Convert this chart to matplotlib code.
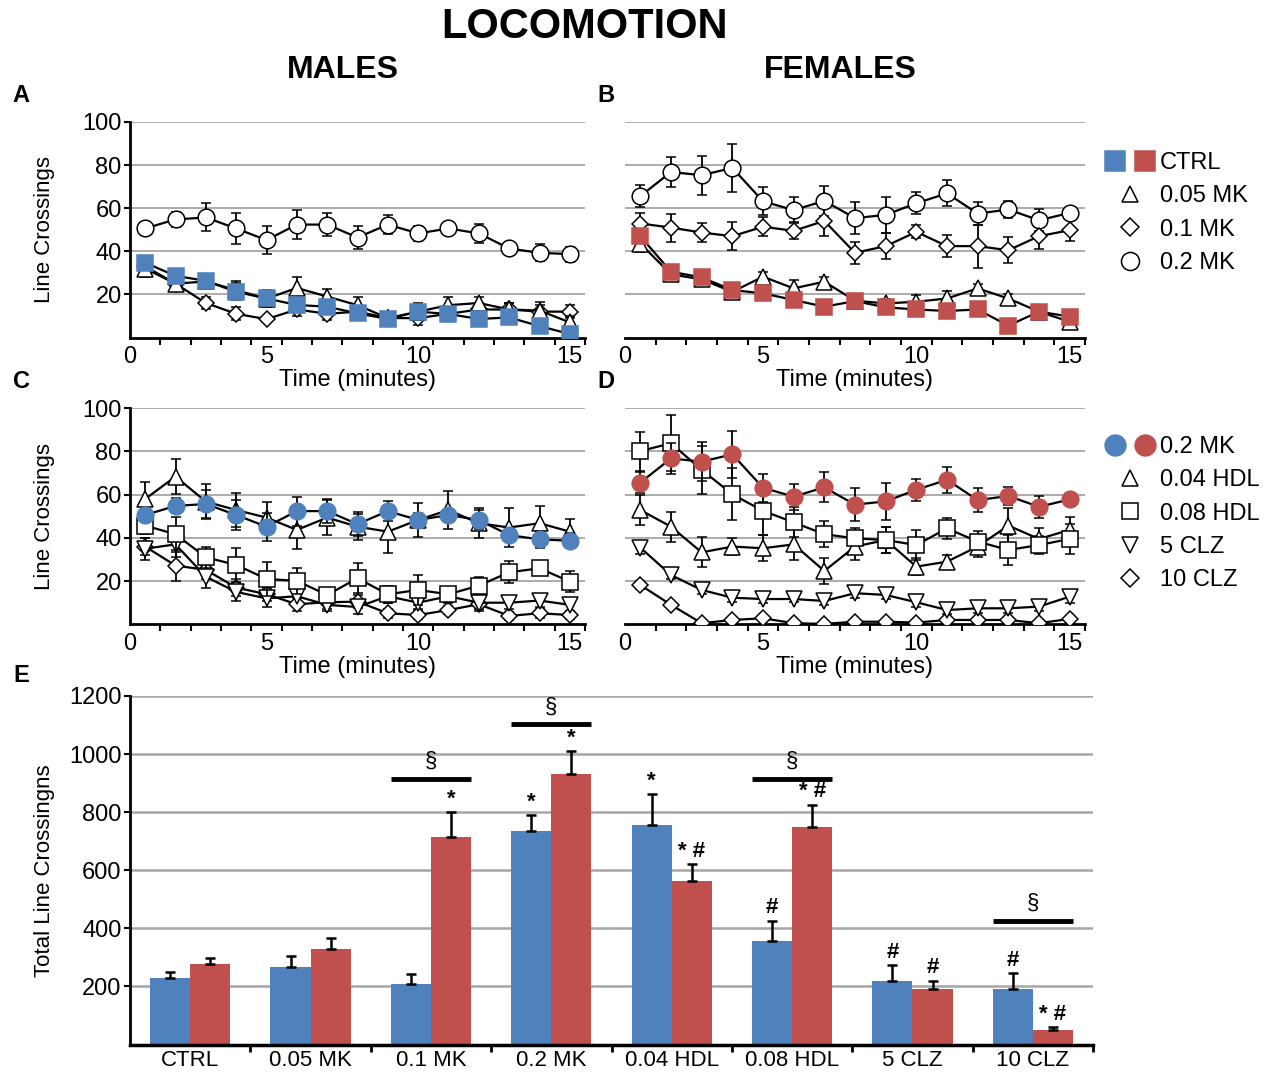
import numpy as np
import matplotlib
matplotlib.use("Agg")
import matplotlib.pyplot as plt
from matplotlib.lines import Line2D
from matplotlib.legend_handler import HandlerTuple

plt.rcParams["font.family"] = ["Liberation Sans", "DejaVu Sans"]

BLUE = "#4F81BD"
RED = "#C0504D"
GRID = "#a6a6a6"

minutes = np.arange(1, 16)

# --- A: males, MK-801 doses (mean, SEM per minute)
m_ctrl = [34.7, 28.6, 26.3, 21.2, 18.1, 15.1, 14.3, 11.2, 8.6, 12.0, 10.9, 8.6, 9.3, 5.3, 1.6]
m_ctrl_err = [3, 2.5, 3, 4, 3, 3, 3, 3, 2.5, 3, 3, 2.5, 2, 3, 1]
m_mk005 = [32, 25, 26, 22, 18, 23, 19, 15, 9, 12, 15, 16, 13, 12.5, 7]
m_mk005_err = [4, 3, 3, 4, 4, 5, 3.5, 4, 3, 4, 4, 3, 3, 4, 3]
m_mk01 = [33, 25, 16, 11, 8.5, 13, 11, 12, 9, 9, 11, 13, 13, 12, 12]
m_mk01_err = [3, 3, 3, 3, 1, 3, 3, 3, 3, 3, 3, 3, 3, 3, 3]
m_mk02 = [50.6, 54.8, 55.7, 50.6, 45.2, 52.4, 52.4, 46.4, 52.4, 48.3, 50.6, 48.3, 41.3, 39.3, 38.7]
m_mk02_err = [1, 3.5, 6.5, 7, 6.5, 6.7, 5.4, 5.4, 4.6, 3.4, 1, 4.4, 3, 4, 3.5]

# --- B: females, MK-801 doses
f_ctrl = [47.0, 30.5, 27.9, 22.0, 20.5, 17.4, 14.3, 16.9, 14.0, 13.0, 12.3, 13.0, 5.5, 12.0, 9.7]
f_ctrl_err = [2, 2, 2, 2.5, 1.5, 1.5, 1.5, 1.5, 2, 1.5, 1.5, 1.5, 1, 3, 2]
f_mk005 = [43.6, 29.3, 27.0, 21.2, 28.2, 22.8, 25.9, 17.1, 15.8, 16.6, 18.1, 22.8, 18.1, 12.0, 7.3]
f_mk005_err = [4, 2.5, 2.5, 3.5, 2, 4, 2, 1.5, 2, 3, 3.5, 2, 2, 3, 2]
f_mk01 = [52.9, 51.0, 48.7, 47.0, 51.4, 49.5, 54.1, 39.3, 42.4, 49.0, 42.4, 42.4, 40.5, 47.0, 49.8]
f_mk01_err = [5, 6.5, 4.5, 6.5, 4.5, 4, 7, 5, 6, 3, 5, 10, 6, 6, 5]
f_mk02 = [65.6, 76.8, 75.3, 78.7, 63.2, 59.1, 63.4, 55.4, 56.9, 62.3, 66.9, 57.5, 59.4, 54.4, 57.8]
f_mk02_err = [5, 7, 9, 11, 6.5, 6, 7, 7.5, 8.5, 5, 6, 5.5, 4, 5, 1]

# --- C: males, antipsychotics
m_hdl004 = [58.0, 68.4, 56.8, 52.9, 49.4, 43.7, 49.4, 45.2, 42.9, 48.3, 52.9, 46.8, 44.8, 46.8, 42.9]
m_hdl004_err = [8, 8, 8, 8, 7, 9, 8, 6, 10, 8, 9, 7, 9, 8, 6]
m_hdl008 = [45.7, 41.7, 31.0, 27.5, 21.0, 20.1, 13.6, 21.3, 13.9, 15.9, 13.9, 17.9, 24.1, 25.9, 19.8]
m_hdl008_err = [4, 8, 5, 8, 8, 6, 3, 7, 4, 7, 3, 4, 5, 3, 5]
m_clz5 = [35, 37, 22, 15, 12, 13, 9, 8, 13, 10, 13, 10, 10, 11, 9]
m_clz5_err = [5, 6, 5, 4, 4, 3, 3, 3, 3, 3, 3, 3, 3, 3, 3]
m_clz10 = [36.0, 27.2, 25.2, 17.0, 13.9, 9.3, 10.2, 10.5, 5.1, 4.3, 6.6, 9.3, 3.9, 5.1, 4.3]
m_clz10_err = [4, 7, 4, 4, 3, 3, 3, 3, 2, 2, 2, 3, 2, 2, 2]

# --- D: females, antipsychotics
f_hdl004 = [52.9, 45.2, 33.3, 36.0, 35.2, 37.0, 24.7, 36.0, 39.0, 26.7, 29.0, 36.0, 45.7, 39.5, 43.7]
f_hdl004_err = [7, 7, 7, 4, 6, 7, 6, 6, 6, 4, 3, 5, 8, 5, 6]
f_hdl008 = [80.2, 83.8, 71.5, 60.2, 52.5, 47.2, 41.7, 39.8, 39.0, 36.7, 44.4, 38.3, 34.4, 36.7, 39.5]
f_hdl008_err = [9, 13, 11, 12, 11, 7, 6, 5, 6, 7, 5, 5, 7, 4, 7]
f_clz5 = [35.5, 22.8, 15.9, 12.3, 11.7, 11.7, 10.8, 14.4, 13.6, 10.2, 6.6, 7.4, 7.4, 8.2, 12.8]
f_clz5_err = [3, 2, 2, 2, 2, 1.5, 2, 2, 2, 2, 2, 2, 2, 2, 3]
f_clz10 = [18.2, 9.0, 0.5, 2.0, 2.8, 0.5, 0.2, 1.2, 1.2, 0.8, 2.0, 2.0, 2.0, 0.5, 2.5]
f_clz10_err = [2, 1.5, 0.5, 1, 1, 0.5, 0.5, 0.5, 0.5, 0.5, 0.5, 0.5, 0.5, 0.5, 0.5]

# --- E: total line crossings over 15 min
groups = ["CTRL", "0.05 MK", "0.1 MK", "0.2 MK", "0.04 HDL", "0.08 HDL", "5 CLZ", "10 CLZ"]
male_tot = [230, 267, 208, 734, 756, 355, 219, 191]
male_sem = [19, 38, 35, 57, 105, 72, 55, 54]
female_tot = [277, 328, 714, 931, 564, 749, 191, 49]
female_sem = [22, 38, 86, 80, 58, 77, 29, 10]
male_marks = ["", "", "", "*", "*", "#", "#", "#"]
female_marks = ["", "", "*", "*", "* #", "* #", "#", "* #"]
sex_diff_groups = [2, 3, 5, 7]
sex_diff_level = [916, 1103, 916, 427]

TICK_FS = 17

W, H = 1265, 1074
fig = plt.figure(figsize=(W / 100, H / 100), dpi=100)


def px_axes(x0, x1, y_top, y_bot):
    return fig.add_axes([x0 / W, 1 - y_bot / H, (x1 - x0) / W, (y_bot - y_top) / H])


def style_time_axes(ax, show_y):
    ax.set_xlim(0.5, 15.5)
    ax.set_ylim(0, 100)
    ax.set_yticks([20, 40, 60, 80, 100])
    ax.yaxis.grid(True, color=GRID, lw=1.3)
    ax.set_axisbelow(True)
    for s in ("top", "right"):
        ax.spines[s].set_visible(False)
    ax.spines["bottom"].set_linewidth(2)
    ax.set_xticks([0.5, 5, 10, 15])
    ax.set_xticklabels(["0", "5", "10", "15"], fontsize=TICK_FS)
    ax.set_xticks(np.arange(1.5, 16, 1), minor=True)
    ax.tick_params(axis="x", which="major", length=0, pad=6)
    ax.tick_params(axis="x", which="minor", length=5, width=1.5)
    ax.set_xlabel("Time (minutes)", fontsize=TICK_FS, labelpad=1)
    if show_y:
        ax.spines["left"].set_linewidth(2)
        ax.tick_params(axis="y", length=4, width=1.5, labelsize=TICK_FS, pad=2)
        ax.set_ylabel("Line Crossings", fontsize=16, labelpad=20)
    else:
        ax.spines["left"].set_visible(False)
        ax.tick_params(axis="y", length=0, labelleft=False)


def series(ax, y, err, marker, face, ms, z):
    ax.errorbar(minutes, y, yerr=err, color="black", lw=1.6, elinewidth=1.3,
                capsize=3.5, capthick=1.3, marker=marker, ms=ms, mfc=face,
                mec="black" if face == "white" else face, mew=1.1, zorder=z)


axA = px_axes(130, 585, 122, 337.5)
axB = px_axes(625, 1085, 122, 337.5)
axC = px_axes(130, 585, 408.3, 624.3)
axD = px_axes(625, 1085, 408.3, 624.3)

for ax, show_y in ((axA, True), (axB, False), (axC, True), (axD, False)):
    style_time_axes(ax, show_y)

series(axA, m_mk02, m_mk02_err, "o", "white", 12, 3)
series(axA, m_mk01, m_mk01_err, "D", "white", 8.5, 3)
series(axA, m_mk005, m_mk005_err, "^", "white", 11, 4)
series(axA, m_ctrl, m_ctrl_err, "s", BLUE, 11.5, 5)

series(axB, f_mk02, f_mk02_err, "o", "white", 12, 3)
series(axB, f_mk01, f_mk01_err, "D", "white", 8.5, 3)
series(axB, f_mk005, f_mk005_err, "^", "white", 11, 4)
series(axB, f_ctrl, f_ctrl_err, "s", RED, 11.5, 5)

series(axC, m_clz10, m_clz10_err, "D", "white", 8.5, 3)
series(axC, m_clz5, m_clz5_err, "v", "white", 11, 3)
series(axC, m_hdl008, m_hdl008_err, "s", "white", 11, 4)
series(axC, m_hdl004, m_hdl004_err, "^", "white", 11, 4)
series(axC, m_mk02, m_mk02_err, "o", BLUE, 12, 5)

series(axD, f_clz10, f_clz10_err, "D", "white", 8.5, 3)
series(axD, f_clz5, f_clz5_err, "v", "white", 11, 3)
series(axD, f_hdl004, f_hdl004_err, "^", "white", 11, 4)
series(axD, f_hdl008, f_hdl008_err, "s", "white", 11, 4)
series(axD, f_mk02, f_mk02_err, "o", RED, 12, 5)


# legends at the right of B and D
def proxy(marker, face, ms):
    return Line2D([], [], ls="none", marker=marker, ms=ms, mfc=face,
                  mec="black" if face == "white" else face, mew=1.1)


leg_kw = dict(frameon=False, fontsize=17, handlelength=2.3, handletextpad=0.1,
              labelspacing=0.48, borderaxespad=0, borderpad=0,
              handler_map={tuple: HandlerTuple(ndivide=None, pad=0.2)})
fig.legend([(proxy("s", BLUE, 14), proxy("s", RED, 14)), proxy("^", "white", 12),
            proxy("D", "white", 9.5), proxy("o", "white", 13)],
           ["CTRL", "0.05 MK", "0.1 MK", "0.2 MK"],
           loc="upper left", bbox_to_anchor=(1103 / W, 1 - 152 / H), **leg_kw)
fig.legend([(proxy("o", BLUE, 15), proxy("o", RED, 15)), proxy("^", "white", 12),
            proxy("s", "white", 11), proxy("v", "white", 12), proxy("D", "white", 9.5)],
           ["0.2 MK", "0.04 HDL", "0.08 HDL", "5 CLZ", "10 CLZ"],
           loc="upper left", bbox_to_anchor=(1103 / W, 1 - 436 / H), **leg_kw)

# --- E: totals
axE = px_axes(130, 1093, 696, 1044.6)
x = np.arange(len(groups))
bw = 1 / 3
axE.bar(x - bw / 2, male_tot, bw, color=BLUE, zorder=2)
axE.bar(x + bw / 2, female_tot, bw, color=RED, zorder=2)
axE.errorbar(x - bw / 2, male_tot, yerr=[np.zeros(len(x)), male_sem], fmt="none",
             ecolor="black", elinewidth=1.8, capsize=3.5, capthick=1.8, zorder=3)
axE.errorbar(x + bw / 2, female_tot, yerr=[np.zeros(len(x)), female_sem], fmt="none",
             ecolor="black", elinewidth=1.8, capsize=3.5, capthick=1.8, zorder=3)
for i in range(len(groups)):
    if male_marks[i]:
        axE.text(x[i] - bw / 2, male_tot[i] + male_sem[i] + 8, male_marks[i],
                 ha="center", va="bottom", fontsize=16, fontweight="bold")
    if female_marks[i]:
        axE.text(x[i] + bw / 2, female_tot[i] + female_sem[i] + 8, female_marks[i],
                 ha="center", va="bottom", fontsize=16, fontweight="bold")
for g, lvl in zip(sex_diff_groups, sex_diff_level):
    axE.plot([x[g] - bw, x[g] + bw], [lvl, lvl], color="black", lw=3.5,
             solid_capstyle="butt", zorder=3)
    axE.text(x[g], lvl + 22, "§", ha="center", va="bottom", fontsize=16)

axE.set_xlim(-0.5, len(groups) - 0.5)
axE.set_ylim(0, 1200)
axE.set_yticks(np.arange(200, 1201, 200))
axE.yaxis.grid(True, color=GRID, lw=1.8)
axE.set_axisbelow(True)
for s in ("top", "right"):
    axE.spines[s].set_visible(False)
axE.spines["left"].set_linewidth(2)
axE.spines["bottom"].set_linewidth(2.5)
axE.set_xticks(x)
axE.set_xticklabels(groups, fontsize=16)
axE.set_xticks(np.arange(0.5, len(groups), 1), minor=True)
axE.tick_params(axis="x", which="major", length=0, pad=4)
axE.tick_params(axis="x", which="minor", length=5, width=2)
axE.tick_params(axis="y", length=4, width=1.5, labelsize=TICK_FS, pad=2)
axE.set_ylabel("Total Line Crossingns", fontsize=16, labelpad=10)

# titles and panel letters
fig.text(584 / W, 1 - 27 / H, "LOCOMOTION", ha="center", va="center",
         fontsize=30, fontweight="bold")
fig.text(343 / W, 1 - 70 / H, "MALES", ha="center", va="center",
         fontsize=23, fontweight="bold")
fig.text(840 / W, 1 - 70 / H, "FEMALES", ha="center", va="center",
         fontsize=23, fontweight="bold")
for lbl, px, py in (("A", 21, 95), ("B", 606, 95), ("C", 21, 382),
                    ("D", 606, 382), ("E", 21, 676)):
    fig.text(px / W, 1 - py / H, lbl, ha="center", va="center",
             fontsize=17, fontweight="bold")

fig.savefig("out.png", dpi=100)
